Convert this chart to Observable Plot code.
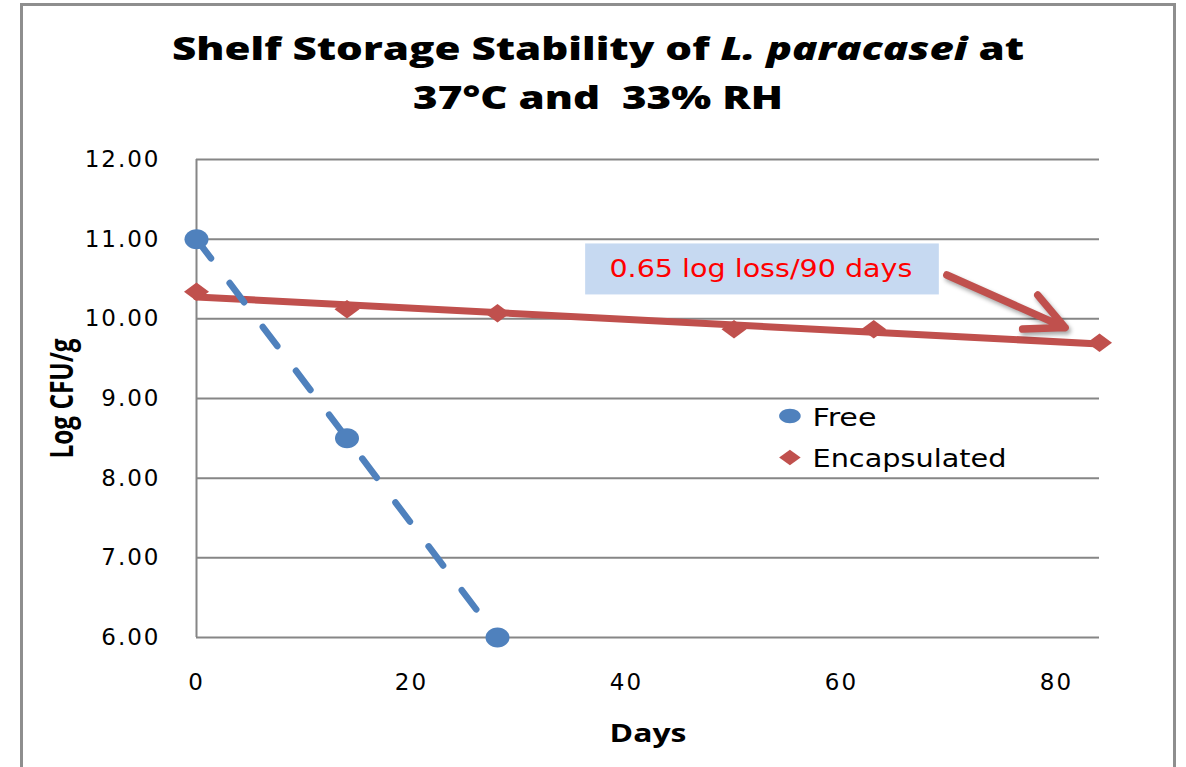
<!DOCTYPE html>
<html>
<head>
<meta charset="utf-8">
<script src="https://cdn.jsdelivr.net/npm/d3@7"></script>
<script src="https://cdn.jsdelivr.net/npm/@observablehq/plot@0.6"></script>
<style>
  body { margin: 0; background: #fff; }
  #wrap { position: relative; width: 1186px; height: 767px; overflow: hidden; background: #fff; }
  #frame { position: absolute; left: 20px; top: 3px; width: 1156px; height: 820px; border: 3px solid #8e8e8e; box-sizing: border-box; }
  #title { position: absolute; left: 0; top: 0; width: 1186px; height: 130px; font-family: "Open Sans", sans-serif; font-weight: 800; font-size: 32px; color: #000; }
  .tl { position: absolute; left: 598px; white-space: pre; line-height: 1; transform-origin: center; }
  #chart { position: absolute; left: 0; top: 130px; }
</style>
</head>
<body>
<div id="wrap">
  <div id="frame"></div>
  <div id="title">
    <span class="tl" id="t1" style="top:32px">Shelf Storage Stability of <i>L. paracasei</i> at</span>
    <span class="tl" id="t2" style="top:81px">37°C and  33% RH</span>
  </div>
  <div id="chart"></div>
</div>
<script>
// ---- data ----
const seriesNames = ["Free", "Encapsulated"];
const freeDays = [0, 14, 28];
const freeLog = [11.00, 8.50, 6.00];
const encDays = [0, 14, 28, 50, 63, 84];
const encLog = [10.34, 10.12, 10.07, 9.87, 9.87, 9.70];
const yTicks = [6, 7, 8, 9, 10, 11, 12];
const xTicks = [0, 20, 40, 60, 80];
const xLabel = "Days";
const yLabel = "Log CFU/g";
const noteText = "0.65 log loss/90 days";

// ---- annotation / legend placement (data units) ----
const noteBox = [{x1: 36.2, x2: 69.1, y1: 10.30, y2: 10.94}];
const noteLabel = [{x: 52.5, y: 10.62, text: noteText}];
const noteArrow = [{x1: 69.8, y1: 10.55, x2: 80.8, y2: 9.89}];
const legendMarkX = 55.2, legendTextX = 57.3, legendY = [8.78, 8.26];

const free = freeDays.map((d, i) => ({day: d, v: freeLog[i]}));
const enc = encDays.map((d, i) => ({day: d, v: encLog[i]}));

const blue = "#4F81BD", red = "#C0504D", grid = "#868686";

const ellipseSym = (ratio) => ({draw(ctx, size) {
  const r = Math.sqrt(size / Math.PI), rx = r * ratio, ry = r, k = 0.5523;
  ctx.moveTo(rx, 0);
  ctx.bezierCurveTo(rx, ry * k, rx * k, ry, 0, ry);
  ctx.bezierCurveTo(-rx * k, ry, -rx, ry * k, -rx, 0);
  ctx.bezierCurveTo(-rx, -ry * k, -rx * k, -ry, 0, -ry);
  ctx.bezierCurveTo(rx * k, -ry, rx, -ry * k, rx, 0);
  ctx.closePath();
}});
const diamondSym = (ratio) => ({draw(ctx, size) {
  const r = Math.sqrt(size / Math.PI), hx = r * ratio, hy = r;
  ctx.moveTo(hx, 0); ctx.lineTo(0, hy); ctx.lineTo(-hx, 0); ctx.lineTo(0, -hy); ctx.closePath();
}});

const legendData = seriesNames.map((n, i) => ({name: n, y: legendY[i]}));

const chart = Plot.plot({
  width: 1186, height: 637,
  marginLeft: 196, marginRight: 87, marginTop: 29, marginBottom: 130,
  x: {domain: [0, 84]},
  y: {domain: [6, 12]},
  style: {fontFamily: "DejaVu Sans", fontSize: "23px", color: "#000", background: "transparent", overflow: "visible"},
  marks: [
    Plot.gridY(yTicks, {stroke: grid, strokeOpacity: 1, strokeWidth: 2}),
    Plot.ruleX([0], {stroke: grid, strokeWidth: 2}),
    Plot.axisY(yTicks, {tickSize: 0, tickPadding: 36, tickFormat: d => d.toFixed(2), label: null, fontSize: 23}),
    Plot.axisX(xTicks, {tickSize: 0, tickPadding: 36, label: null, fontSize: 23}),
    Plot.linearRegressionY(enc, {x: "day", y: "v", stroke: red, strokeWidth: 7, ci: 0}),
    Plot.dot(enc, {x: "day", y: "v", symbol: diamondSym(1.36), r: 9.2, fill: red}),
    Plot.line(free, {x: "day", y: "v", stroke: blue, strokeWidth: 6.5, strokeDasharray: "24,31", strokeLinecap: "round"}),
    Plot.dot(free, {x: "day", y: "v", symbol: ellipseSym(1.2), r: 10, fill: blue}),
    Plot.rect(noteBox, {x1: "x1", x2: "x2", y1: "y1", y2: "y2", fill: "#C6D9F1"}),
    Plot.text(noteLabel, {x: "x", y: "y", text: "text", fill: "#FF0000", fontSize: 24, lineAnchor: "middle"}),
    Plot.arrow(noteArrow, {x1: "x1", y1: "y1", x2: "x2", y2: "y2", stroke: red, strokeWidth: 7.5, headAngle: 52, headLength: 8.5, strokeLinecap: "round", strokeLinejoin: "round"}),
    Plot.dot(legendData.slice(0, 1), {x: () => legendMarkX, y: "y", symbol: ellipseSym(1.5), r: 7.2, fill: blue}),
    Plot.dot(legendData.slice(1, 2), {x: () => legendMarkX, y: "y", symbol: diamondSym(1.38), r: 7.8, fill: red}),
    Plot.text(legendData, {x: () => legendTextX, y: "y", text: "name", textAnchor: "start", fontSize: 24, dy: 2}),
    Plot.text([xLabel], {frameAnchor: "bottom", text: d => d, dy: 104, fontWeight: "bold", fontSize: 25, fontFamily: "Open Sans"}),
    Plot.text([yLabel], {frameAnchor: "left", text: d => d, dx: -134, rotate: -90, fontWeight: "bold", fontSize: 32, fontFamily: "Open Sans"})
  ]
});
document.getElementById("chart").appendChild(chart);

// fit text widths to the reference (centred texts re-anchored at their start)
const widths = {"Free": [64, false], "Encapsulated": [194, false], [noteText]: [303, true], [xLabel]: [77, true], [yLabel]: [120, true]};
chart.querySelectorAll("text").forEach(t => {
  const spec = widths[t.textContent];
  if (!spec) return;
  const [w, centred] = spec;
  t.setAttribute("textLength", w);
  t.setAttribute("lengthAdjust", "spacingAndGlyphs");
  if (centred) {
    const x0 = +(t.getAttribute("x") || 0);
    t.setAttribute("x", x0 - w / 2);
    t.setAttribute("text-anchor", "start");
  }
});
chart.querySelectorAll("g[aria-label='y-axis tick label'] text, g[aria-label='x-axis tick label'] text").forEach(t => {
  t.style.letterSpacing = "2px";
});
const arrowG = chart.querySelector("g[aria-label='arrow']");
if (arrowG) arrowG.style.filter = "drop-shadow(2px 3px 2px rgba(0,0,0,0.35))";

// title widths
[["t1", 852], ["t2", 370]].forEach(([id, w]) => {
  const el = document.getElementById(id);
  const nat = el.getBoundingClientRect().width;
  el.style.transform = `translateX(-50%) scaleX(${w / nat})`;
});
</script>
</body>
</html>
